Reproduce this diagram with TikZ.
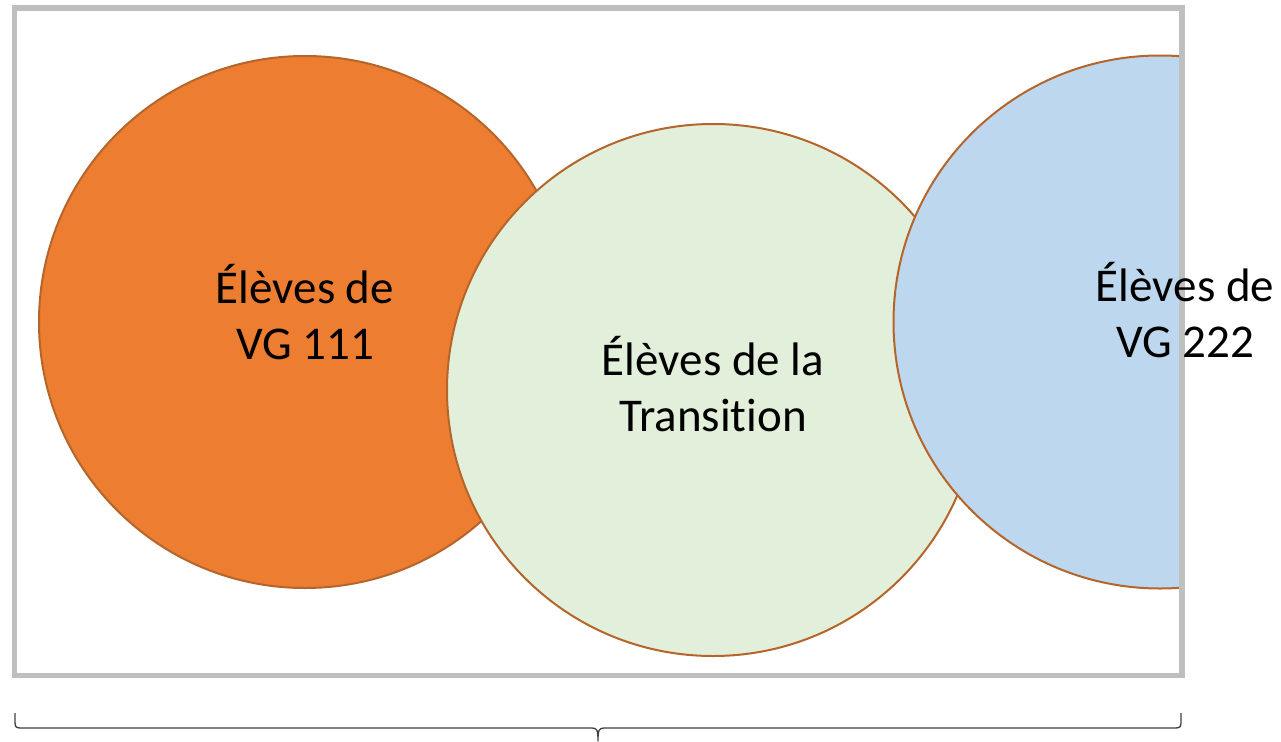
\documentclass[tikz,border=0pt]{standalone}
\usepackage{fontspec}
\setmainfont[Ligatures=NoCommon]{Carlito}
\definecolor{frameg}{HTML}{BFBFBF}
\definecolor{edgeo}{HTML}{B5652A}
\definecolor{fillo}{HTML}{ED7D31}
\definecolor{fillg}{HTML}{E2EFDA}
\definecolor{fillb}{HTML}{BDD7EE}
\definecolor{bracec}{HTML}{404040}
\tikzset{
  circ/.style={draw=edgeo, line width=2pt},
  lbl/.style={align=center, font=\fontsize{47}{56}\selectfont, text=black, inner sep=0pt},
}
\begin{document}
\begin{tikzpicture}[x=1pt,y=-1pt]
\useasboundingbox (0,0) rectangle (1281,741);
\fill[white] (0,0) rectangle (1281,741);
\coordinate (fa) at (14.5,8);
\coordinate (fb) at (1182,675.5);
\filldraw[circ, fill=fillo] (305,322) circle (266);
\filldraw[circ, fill=fillg] (713,390) circle (266);
\begin{scope}
  \clip (0,0) rectangle (1180,741);
  \filldraw[circ, fill=fillb] (1160,322) circle (266.5);
\end{scope}
\draw[frameg, line width=5.5pt] (fa) rectangle (fb);
\node[lbl] (t1) at (305,312) {Élèves de\\VG 111};
\node[lbl] (t2) at (713,384) {Élèves de la\\Transition};
\node[lbl] (t3) at (1185,310) {Élèves de\\VG 222};
\coordinate (bl) at (15,713);
\coordinate (br) at (1181,713);
\coordinate (bt) at (598,741);
\draw[bracec, line width=1.3pt, line join=round]
  (bl) -- (15,722) .. controls (15,727) and (16,728) .. (21,728)
  -- (592,728) .. controls (597,728) and (598,730) .. (bt)
  .. controls (598,730) and (599,728) .. (604,728)
  -- (1175,728) .. controls (1180,728) and (1181,727) .. (1181,722) -- (br);
\end{tikzpicture}
\end{document}
